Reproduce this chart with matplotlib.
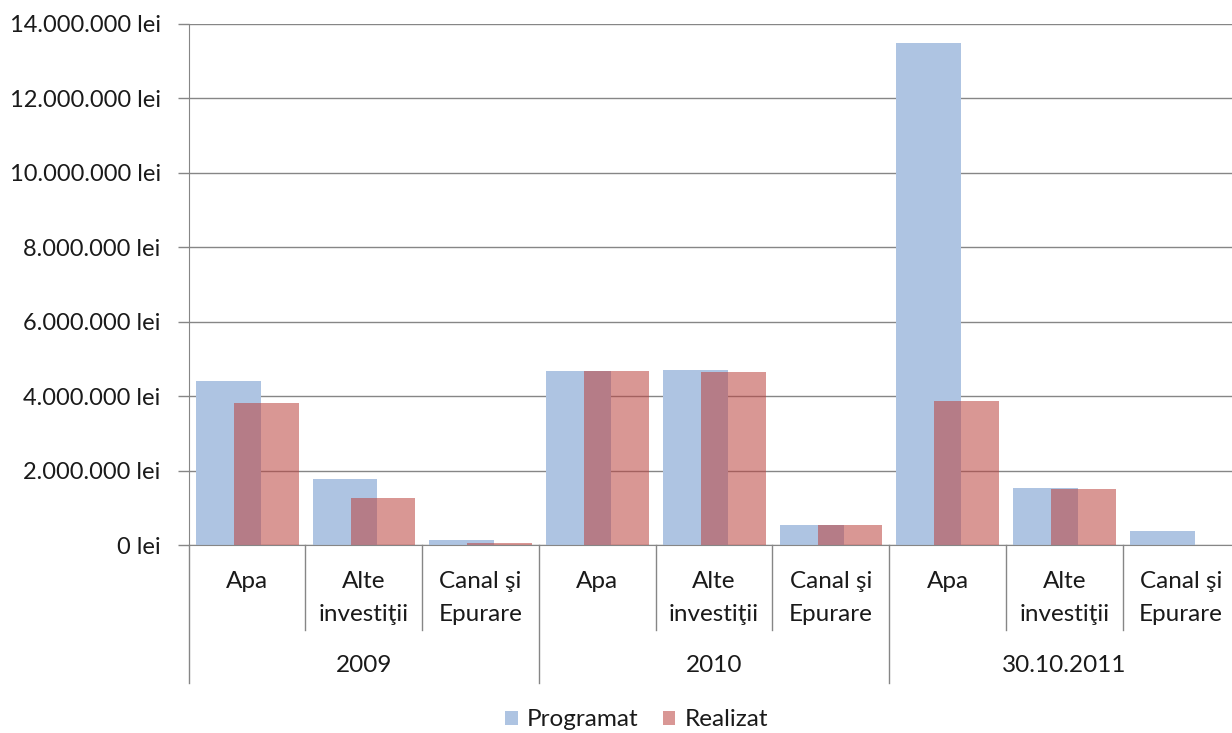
import matplotlib
matplotlib.use("Agg")
import matplotlib.pyplot as plt
from matplotlib.patches import Patch
from matplotlib.ticker import FuncFormatter, MultipleLocator
import numpy as np

plt.rcParams['font.family'] = ['Lato', 'DejaVu Sans']

groups = ["2009", "2010", "30.10.2011"]
subcats = [["Apa"], ["Alte", "investiţii"], ["Canal şi", "Epurare"]]
programat = [4400000, 1770000, 140000, 4680000, 4710000, 530000, 13500000, 1530000, 385000]
realizat = [3810000, 1250000, 50000, 4680000, 4640000, 530000, 3880000, 1500000, 0]
series_names = ["Programat", "Realizat"]

blue = "#AEC4E2"
red_rgba = (187 / 255, 68 / 255, 64 / 255, 0.556)
red_legend = "#D99795"
gridc = "#868686"
txtc = "#1a1a1a"
fs = 17.5

fig = plt.figure(figsize=(12.32, 7.33), dpi=100)
ax = fig.add_axes([188.5 / 1232, 1 - 545 / 733, 1051 / 1232, 521 / 733])

n = len(programat)
x = np.arange(n)
w = 0.555
ax.bar(x - 0.16, programat, width=w, color=blue, edgecolor="none", zorder=2)
ax.bar(x + 0.165, realizat, width=w, color=red_rgba, edgecolor="none", zorder=3)

ax.set_xlim(-0.5, n - 0.5)
ax.set_ylim(0, 14000000)
ax.yaxis.set_major_locator(MultipleLocator(2000000))
ax.yaxis.set_major_formatter(FuncFormatter(lambda v, p: f"{int(round(v)):,}".replace(",", ".") + " lei"))
ax.grid(axis="y", color=gridc, linewidth=1.0, zorder=0)
ax.set_axisbelow(True)
for s in ["top", "right"]:
    ax.spines[s].set_visible(False)
ax.spines["left"].set_color(gridc)
ax.spines["bottom"].set_color(gridc)
ax.tick_params(axis="y", length=8, width=1, color=gridc, pad=12, labelsize=17, labelcolor=txtc)
ax.set_xticks([])

trans = ax.get_xaxis_transform()
for i in range(n):
    lines = subcats[i % 3]
    ys = [-0.071, -0.133]
    for j, line in enumerate(lines):
        ax.text(i, ys[j], line, transform=trans, ha="center", va="center", fontsize=fs, color=txtc)
for g, name in enumerate(groups):
    ax.text(g * 3 + 1, -0.231, name, transform=trans, ha="center", va="center", fontsize=fs, color=txtc)
for b in range(n + 1):
    xb = b - 0.5
    if b % 3 == 0:
        ax.plot([xb, xb], [0, -0.265], transform=trans, color=gridc, lw=1, clip_on=False)
    else:
        ax.plot([xb, xb], [0, -0.163], transform=trans, color=gridc, lw=1, clip_on=False)

handles = [Patch(facecolor=blue, edgecolor="none"), Patch(facecolor=red_legend, edgecolor="none")]
fig.legend(handles, series_names, loc="center", bbox_to_anchor=(0.517, 1 - 720 / 733), ncol=2, frameon=False,
           fontsize=fs, handlelength=0.5, handleheight=0.5, handletextpad=0.4, columnspacing=1.0,
           labelcolor=txtc)

fig.savefig("out.png", dpi=100)
